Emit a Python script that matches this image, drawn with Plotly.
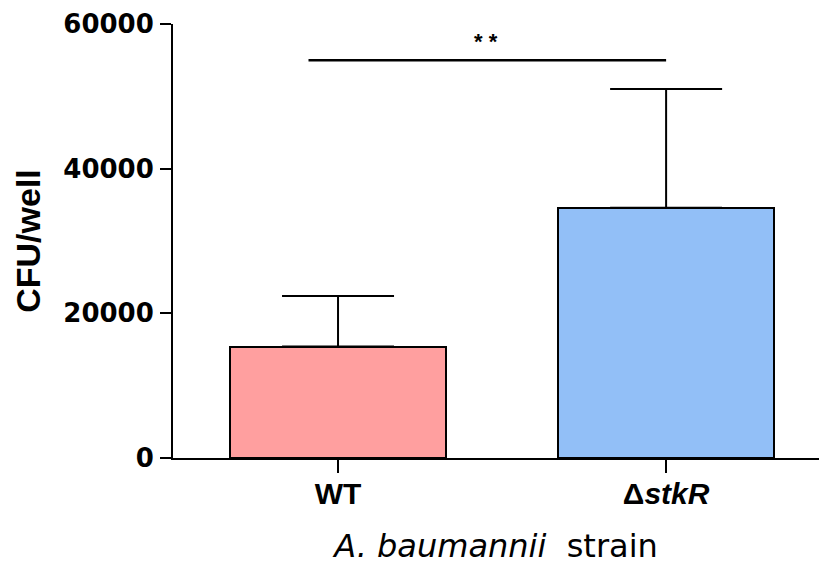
import plotly.graph_objects as go

categories = ["WT", "ΔstkR"]
tick_labels = ["WT", "Δ<i>stkR</i>"]
means = [15400, 34600]
err_plus = [7000, 16400]
colors = ["#FF9F9F", "#92BFF7"]
y_ticks = [0, 20000, 40000, 60000]
sig_text = "* *"
sig_y = 55000
sig_x = [-0.09, 1.0]

x_pos = list(range(len(categories)))

fig = go.Figure()
fig.add_trace(go.Bar(
    x=x_pos, y=means, width=0.66,
    marker=dict(color=colors, line=dict(color="black", width=2)),
    error_y=dict(type="data", symmetric=False, array=err_plus,
                 arrayminus=[0, 0], color="black", thickness=2, width=56),
    showlegend=False,
))

fig.add_shape(type="line", xref="x", yref="y", x0=sig_x[0], x1=sig_x[1],
              y0=sig_y, y1=sig_y, line=dict(color="black", width=2.5))
fig.add_annotation(x=0.45, y=sig_y, xref="x", yref="y", text=sig_text,
                   showarrow=False, yanchor="bottom", yshift=4,
                   font=dict(family="Liberation Sans", size=22, color="black", weight="bold"))

fig.update_layout(
    width=819, height=572,
    margin=dict(l=173, r=0, t=24, b=114),
    plot_bgcolor="white", paper_bgcolor="white",
    bargap=0,
)
fig.update_xaxes(
    range=[-0.503, 1.466], tickmode="array", tickvals=x_pos, ticktext=tick_labels,
    showline=True, linecolor="black", linewidth=2, ticks="outside", ticklen=13,
    tickwidth=2, tickcolor="black", showgrid=False, zeroline=False,
    ticklabelstandoff=-5,
    tickfont=dict(family="Liberation Sans", size=30, color="black", weight="bold"),
    title=dict(text="<i>A. baumannii</i>\u00a0 strain", standoff=26,
               font=dict(family="DejaVu Sans", size=32, color="black")),
    automargin=False,
)
fig.update_yaxes(
    range=[0, 60000], tickmode="array", tickvals=y_ticks,
    ticktext=[str(v) for v in y_ticks],
    showline=True, linecolor="black", linewidth=2, ticks="outside", ticklen=11,
    tickwidth=2, tickcolor="black", showgrid=False, zeroline=False,
    ticklabelstandoff=1,
    tickfont=dict(family="DejaVu Sans", size=26, color="black", weight="bold"),
    title=dict(text="CFU/well", standoff=12,
               font=dict(family="Liberation Sans", size=34, color="black", weight="bold")),
    automargin=False,
)

fig.write_html("out.html")
